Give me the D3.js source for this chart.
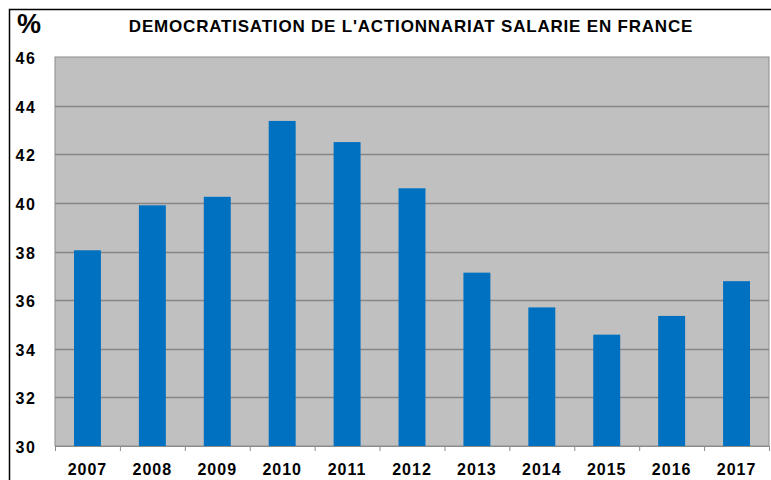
<!DOCTYPE html>
<html>
<head>
<meta charset="utf-8">
<script src="https://cdn.jsdelivr.net/npm/d3@7"></script>
<style>
  body { margin: 0; background: #fff; }
  text { font-family: "Liberation Sans", Arial, sans-serif; font-weight: bold; fill: #000; }
</style>
</head>
<body>
<div id="chart"></div>
<script>
  // data
  const years = ['2007', '2008', '2009', '2010', '2011', '2012', '2013', '2014', '2015', '2016', '2017'];
  const shares = [38.05, 39.9, 40.25, 43.37, 42.5, 40.6, 37.13, 35.7, 34.58, 35.35, 36.78];
  const yTicks = [30, 32, 34, 36, 38, 40, 42, 44, 46];
  const title = "DEMOCRATISATION DE L'ACTIONNARIAT SALARIE EN FRANCE";

  const width = 771, height = 480;
  const margin = { top: 57, right: 2, bottom: 34, left: 55 };

  const svg = d3.select('#chart')
    .append('svg')
    .attr('width', width)
    .attr('height', height);

  // outer frame (only top and left are visible in the crop)
  svg.append('rect')
    .attr('x', 9.5).attr('y', 9.5)
    .attr('width', width + 20).attr('height', height + 20)
    .attr('fill', 'none')
    .attr('stroke', '#000')
    .attr('stroke-width', 1.5);

  const x = d3.scaleBand()
    .domain(years)
    .range([margin.left, width - margin.right])
    .paddingInner(0.585)
    .paddingOuter(0.2925);

  const y = d3.scaleLinear()
    .domain([30, 46])
    .range([height - margin.bottom, margin.top]);

  // plot background
  svg.append('rect')
    .attr('x', margin.left)
    .attr('y', margin.top)
    .attr('width', width - margin.right - margin.left)
    .attr('height', y(30) - y(46))
    .attr('fill', '#c0c0c0')
    .attr('stroke', '#8c8c8c');

  // gridlines
  svg.append('g')
    .selectAll('line')
    .data(yTicks.slice(1, -1))
    .join('line')
    .attr('x1', margin.left)
    .attr('x2', width - margin.right)
    .attr('y1', d => Math.round(y(d)) + 0.5)
    .attr('y2', d => Math.round(y(d)) + 0.5)
    .attr('stroke', '#868686')
    .attr('stroke-width', 1.5);

  // bars
  svg.append('g')
    .selectAll('rect')
    .data(shares)
    .join('rect')
    .attr('x', (d, i) => x(years[i]))
    .attr('y', d => y(d))
    .attr('width', x.bandwidth())
    .attr('height', d => y(30) - y(d))
    .attr('fill', '#0070c0');

  // x axis (category ticks below the plot)
  const xAxis = d3.axisBottom(d3.scaleLinear().domain([0, years.length]).range([margin.left, width - margin.right]))
    .ticks(years.length)
    .tickSize(5)
    .tickFormat('');
  const gx = svg.append('g')
    .attr('transform', `translate(0,${y(30)})`)
    .call(xAxis);
  gx.select('.domain').attr('stroke', '#8c8c8c');
  gx.selectAll('.tick line').attr('stroke', '#8c8c8c');

  svg.append('g')
    .selectAll('text')
    .data(years)
    .join('text')
    .attr('x', d => x(d) + x.bandwidth() / 2)
    .attr('y', 475)
    .attr('text-anchor', 'middle')
    .attr('font-size', 16)
    .attr('letter-spacing', 1)
    .text(d => d);

  // y labels
  svg.append('g')
    .selectAll('text')
    .data(yTicks)
    .join('text')
    .attr('x', 26)
    .attr('y', d => y(d) + 7)
    .attr('text-anchor', 'middle')
    .attr('font-size', 16)
    .attr('letter-spacing', 1.5)
    .text(d => d);

  svg.append('text')
    .attr('x', 17)
    .attr('y', 33)
    .attr('font-size', 27)
    .attr('font-weight', 'normal')
    .text('%');

  svg.append('text')
    .attr('x', 411)
    .attr('y', 32)
    .attr('text-anchor', 'middle')
    .attr('font-size', 17)
    .attr('letter-spacing', 0.8)
    .text(title);
</script>
</body>
</html>
